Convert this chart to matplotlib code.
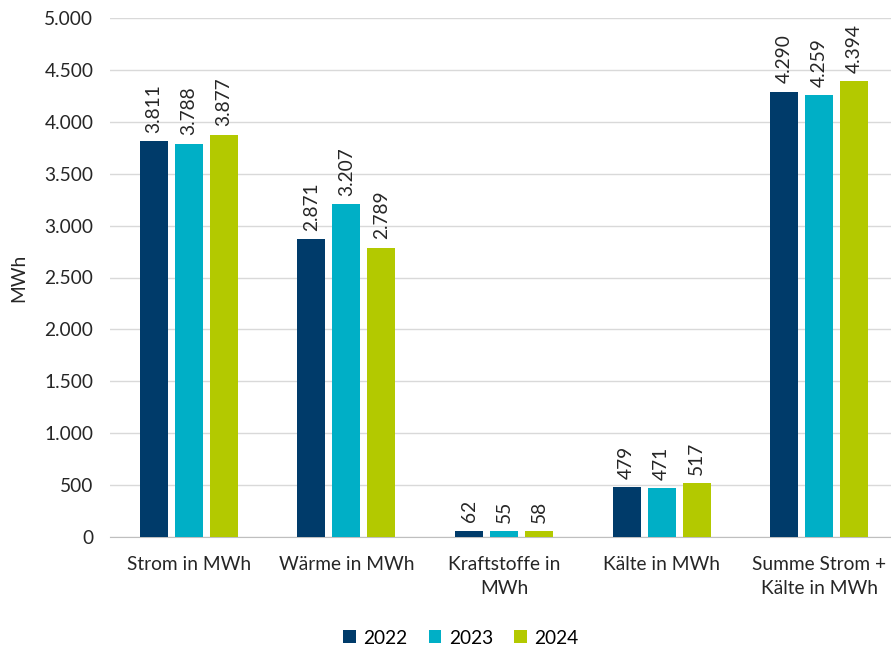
import matplotlib.pyplot as plt
import numpy as np
from matplotlib.ticker import FuncFormatter

plt.rcParams['font.family'] = ['Lato', 'DejaVu Sans']

kategorien = ["Strom in MWh", "Wärme in MWh", "Kraftstoffe in\nMWh",
              "Kälte in MWh", "Summe Strom +\nKälte in MWh"]
jahre = ["2022", "2023", "2024"]
werte_2022 = [3811, 2871, 62, 479, 4290]
werte_2023 = [3788, 3207, 55, 471, 4259]
werte_2024 = [3877, 2789, 58, 517, 4394]
farben = ["#003B6A", "#00AFC6", "#B3C900"]

fs = 13.8
textfarbe = "#262626"


def tausender(v, pos=None):
    return f"{int(v):,}".replace(",", ".")


fig = plt.figure(figsize=(8.91, 6.52), dpi=100)
ax = fig.add_axes([110 / 891, 1 - 537 / 652, 788 / 891, 519 / 652])

x = np.arange(len(kategorien))
breite = 0.178
abstand = 0.222
for i, (jahr, werte) in enumerate(zip(jahre, [werte_2022, werte_2023, werte_2024])):
    pos = x + (i - 1) * abstand
    ax.bar(pos, werte, width=breite, color=farben[i], label=jahr, zorder=3)
    for px, w in zip(pos, werte):
        ax.annotate(tausender(w), (px, w), xytext=(0, 6), textcoords="offset points",
                    rotation=90, ha="center", va="bottom", fontsize=fs, color=textfarbe)

ax.set_xlim(-0.5, len(kategorien) - 0.5)
ax.set_ylim(0, 5000)
ax.set_yticks(np.arange(0, 5001, 500))
ax.yaxis.set_major_formatter(FuncFormatter(tausender))
ax.set_xticks(x)
ax.set_xticklabels(kategorien, fontsize=fs, color=textfarbe, linespacing=1.45)
ax.tick_params(axis="y", length=0, labelsize=fs, labelcolor=textfarbe, pad=12)
ax.tick_params(axis="x", length=0, pad=14)
ax.grid(axis="y", color="#D9D9D9", linewidth=1, zorder=0)
for s in ["top", "right", "left"]:
    ax.spines[s].set_visible(False)
ax.spines["bottom"].set_color("#BFBFBF")
ax.set_ylabel("MWh", fontsize=fs, color=textfarbe, labelpad=12)

fig.legend(loc="center", bbox_to_anchor=(461 / 891, 1 - 638 / 652), ncol=3, frameon=False,
           fontsize=fs, handlelength=0.65, handleheight=0.65, columnspacing=1.1,
           handletextpad=0.4)

fig.savefig("out.png", dpi=100)
